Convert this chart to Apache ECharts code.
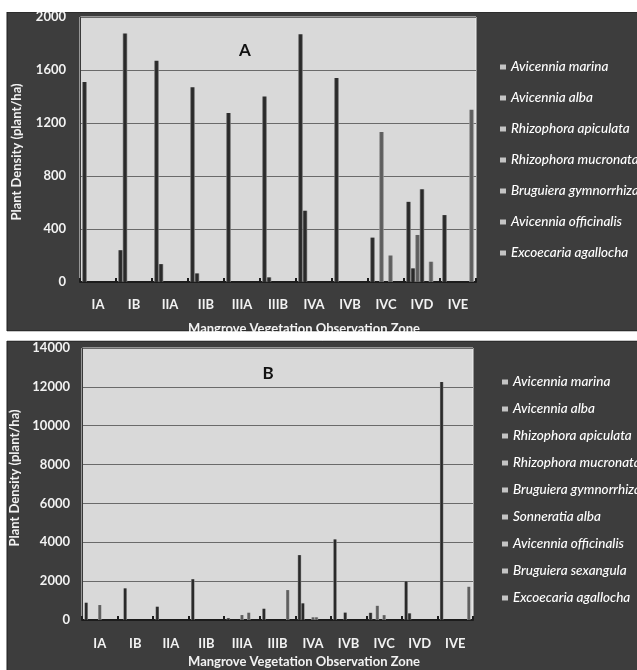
<!DOCTYPE html>
<html>
<head>
<meta charset="utf-8">
<title>Mangrove plant density by observation zone</title>
<script src="https://cdn.jsdelivr.net/npm/echarts@6/dist/echarts.min.js"></script>
<style>
  html, body { margin: 0; padding: 0; background: #ffffff; }
  #chart { width: 637px; height: 670px; }
</style>
</head>
<body>
<div id="chart"></div>
<script>
// Observation zones (shared by both panels)
const zones = ['IA', 'IB', 'IIA', 'IIB', 'IIIA', 'IIIB', 'IVA', 'IVB', 'IVC', 'IVD', 'IVE'];

// Panel A tick values
const ticksA = [0, 400, 800, 1200, 1600, 2000];
// Panel B tick values
const ticksB = [0, 2000, 4000, 6000, 8000, 10000, 12000, 14000];

// Panel A: plant density (plant/ha) per species
const namesA = ['Avicennia marina', 'Avicennia alba', 'Rhizophora apiculata', 'Rhizophora mucronata',
  'Bruguiera gymnorrhiza', 'Avicennia officinalis', 'Excoecaria agallocha'];
const marinaA      = [1510, 240, 1670, 1470, 1275, 1400, 1870, 1540, 335, 605, 505];
const albaA        = [null, 1875, 135, 65, null, 35, 538, null, null, 103, null];
const apiculataA   = [null, null, null, null, null, null, null, null, 1132, 355, null];
const mucronataA   = [null, null, null, null, null, null, null, null, null, 700, null];
const gymnorrhizaA = [null, null, null, null, null, null, null, null, 200, null, null];
const officinalisA = [null, null, null, null, null, null, null, null, null, 153, null];
const agallochaA   = [null, null, null, null, null, null, null, null, null, null, 1300];

// Panel B: plant density (plant/ha) per species
const namesB = ['Avicennia marina', 'Avicennia alba', 'Rhizophora apiculata', 'Rhizophora mucronata',
  'Bruguiera gymnorrhiza', 'Sonneratia alba', 'Avicennia officinalis', 'Bruguiera sexangula',
  'Excoecaria agallocha'];
const marinaB      = [890, null, 685, 2100, 90, 580, 3340, 4150, 370, 1980, 12250];
const albaB        = [null, 1630, null, null, null, null, 858, null, null, 343, null];
const apiculataB   = [null, null, null, null, null, null, null, null, 730, null, null];
const mucronataB   = [null, null, null, null, null, null, null, 380, null, null, null];
const gymnorrhizaB = [770, null, null, null, 255, null, 140, null, 250, null, null];
const sonneratiaB  = [null, null, null, null, null, null, 140, null, null, null, null];
const officinalisB = [null, null, null, null, 375, null, null, null, null, null, null];
const sexangulaB   = [null, null, null, null, null, 1540, null, null, null, null, null];
const agallochaB   = [null, null, null, null, null, null, null, null, null, null, 1710];

const valuesA = [marinaA, albaA, apiculataA, mucronataA, gymnorrhizaA, officinalisA, agallochaA];
const valuesB = [marinaB, albaB, apiculataB, mucronataB, gymnorrhizaB, sonneratiaB, officinalisB, sexangulaB, agallochaB];

// Bar shading: darker core with lighter side edges
function shade(core, edge) {
  return {
    type: 'linear', x: 0, y: 0, x2: 1, y2: 0,
    colorStops: [
      { offset: 0, color: edge },
      { offset: 0.3, color: core },
      { offset: 0.7, color: core },
      { offset: 1, color: edge }
    ]
  };
}
const DARK = shade('#2a2a2a', '#7c7c7c');
const MID = shade('#5e5e5e', '#9a9a9a');
const stylesA = [DARK, DARK, MID, DARK, MID, MID, MID];
const stylesB = [DARK, DARK, MID, DARK, MID, MID, MID, MID, MID];

const FONT = 'Lato, "Open Sans", sans-serif';

function axisX(gridIndex, margin) {
  return {
    type: 'category', gridIndex: gridIndex, data: zones,
    axisLine: { show: true, lineStyle: { color: '#1c1c1c', width: 2 } },
    axisTick: { show: true, inside: true, length: 4, lineStyle: { color: '#1c1c1c', width: 2 } },
    axisLabel: { color: '#f2f2f2', fontWeight: 'bold', fontSize: 13, fontFamily: FONT, margin: margin },
    splitLine: { show: false }
  };
}
function axisY(gridIndex, ticks, margin) {
  return {
    type: 'value', gridIndex: gridIndex,
    min: ticks[0], max: ticks[ticks.length - 1], interval: ticks[1] - ticks[0],
    axisLine: { show: true, lineStyle: { color: '#3a3a3a', width: 1 } },
    axisTick: { show: false },
    axisLabel: { color: '#f2f2f2', fontWeight: 'bold', fontSize: 13, fontFamily: FONT, margin: margin,
      formatter: function (v) { return String(v); } },
    splitLine: { show: true, lineStyle: { color: '#6a6a6a', width: 1 } }
  };
}

const series = [];
namesA.forEach(function (name, i) {
  series.push({
    name: name, type: 'bar', xAxisIndex: 0, yAxisIndex: 0,
    data: valuesA[i], barGap: '0%', barCategoryGap: '12.5%',
    itemStyle: { color: stylesA[i] }
  });
});
namesB.forEach(function (name, i) {
  series.push({
    name: name, type: 'bar', xAxisIndex: 1, yAxisIndex: 1,
    data: valuesB[i], barGap: '0%', barCategoryGap: '14%',
    itemStyle: { color: stylesB[i] }
  });
});

function legend(names, left, top, gap) {
  return {
    orient: 'vertical', left: left, top: top, itemGap: gap,
    itemWidth: 6, itemHeight: 5, icon: 'rect', selectedMode: false,
    data: names,
    itemStyle: { color: '#c4c4c4' },
    textStyle: { color: '#ffffff', fontStyle: 'italic', fontWeight: 500, fontSize: 13.5, fontFamily: FONT, lineHeight: 16 }
  };
}

function axisTitleX(y) {
  return {
    type: 'text', x: 304, y: y, z: 10,
    style: { text: 'Mangrove Vegetation Observation Zone', fill: '#f2f2f2', font: 'bold 13px ' + FONT,
      align: 'center', verticalAlign: 'middle' }
  };
}
function axisTitleY(x, y) {
  return {
    type: 'text', x: x, y: y, rotation: Math.PI / 2, z: 10,
    style: { text: 'Plant Density (plant/ha)', fill: '#f2f2f2', font: 'bold 13px ' + FONT,
      align: 'center', verticalAlign: 'middle' }
  };
}

const chart = echarts.init(document.getElementById('chart'), null, { renderer: 'canvas' });
chart.setOption({
  animation: false,
  backgroundColor: '#ffffff',
  graphic: [
    // dark panel frames
    { type: 'rect', z: -10, shape: { x: 7, y: 12, width: 640, height: 319 },
      style: { fill: '#3d3d3d', stroke: '#1e1e1e', lineWidth: 1 } },
    { type: 'rect', z: -10, shape: { x: 7, y: 341, width: 640, height: 340 },
      style: { fill: '#3d3d3d', stroke: '#1e1e1e', lineWidth: 1 } },
    // panel letters
    { type: 'text', x: 245, y: 51, z: 10,
      style: { text: 'A', fill: '#111111', font: 'bold 17px ' + FONT, align: 'center', verticalAlign: 'middle' } },
    { type: 'text', x: 268, y: 374, z: 10,
      style: { text: 'B', fill: '#111111', font: 'bold 17px ' + FONT, align: 'center', verticalAlign: 'middle' } },
    axisTitleY(17, 152),
    axisTitleY(15, 478),
    axisTitleX(329),
    axisTitleX(662),
    // white margins around the frames
    { type: 'rect', z: 100, shape: { x: 0, y: 0, width: 637, height: 12 }, style: { fill: '#ffffff' } },
    { type: 'rect', z: 100, shape: { x: 0, y: 331.5, width: 637, height: 9 }, style: { fill: '#ffffff' } }
  ],
  grid: [
    { left: 80, top: 17, width: 396, height: 265, show: true, backgroundColor: '#d9d9d9',
      borderColor: '#f0f0f0', borderWidth: 1 },
    { left: 82, top: 348, width: 391, height: 272, show: true, backgroundColor: '#d9d9d9',
      borderColor: '#f0f0f0', borderWidth: 1 }
  ],
  xAxis: [axisX(0, 16), axisX(1, 17)],
  yAxis: [axisY(0, ticksA, 14), axisY(1, ticksB, 12)],
  legend: [legend(namesA, 495, 54, 15), legend(namesB, 497, 369, 11)],
  series: series
});
</script>
</body>
</html>
